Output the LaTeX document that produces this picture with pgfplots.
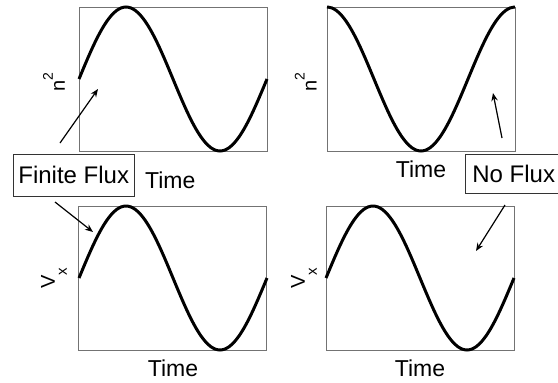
\documentclass[border=0pt]{standalone}
\usepackage{pgfplots}
\pgfplotsset{compat=1.18}
\usepackage{pgfplotstable}
\usepackage{fontspec}
\setmainfont{Liberation Sans}
\usetikzlibrary{arrows.meta}

% t = time, s = sine-like response, c = cosine-like response
\pgfplotstableread{
t      s        c
0      0        1
0.025  0.1564   0.9877
0.05   0.3090   0.9511
0.075  0.4540   0.8910
0.1    0.5878   0.8090
0.125  0.7071   0.7071
0.15   0.8090   0.5878
0.175  0.8910   0.4540
0.2    0.9511   0.3090
0.225  0.9877   0.1564
0.25   1        0
0.275  0.9877  -0.1564
0.3    0.9511  -0.3090
0.325  0.8910  -0.4540
0.35   0.8090  -0.5878
0.375  0.7071  -0.7071
0.4    0.5878  -0.8090
0.425  0.4540  -0.8910
0.45   0.3090  -0.9511
0.475  0.1564  -0.9877
0.5    0       -1
0.525 -0.1564  -0.9877
0.55  -0.3090  -0.9511
0.575 -0.4540  -0.8910
0.6   -0.5878  -0.8090
0.625 -0.7071  -0.7071
0.65  -0.8090  -0.5878
0.675 -0.8910  -0.4540
0.7   -0.9511  -0.3090
0.725 -0.9877  -0.1564
0.75  -1        0
0.775 -0.9877   0.1564
0.8   -0.9511   0.3090
0.825 -0.8910   0.4540
0.85  -0.8090   0.5878
0.875 -0.7071   0.7071
0.9   -0.5878   0.8090
0.925 -0.4540   0.8910
0.95  -0.3090   0.9511
0.975 -0.1564   0.9877
1      0        1
}\wave

\pgfplotsset{
    panel/.style={
        anchor=north west,
        scale only axis,
        width=94pt,
        height=72pt,
        xmin=0, xmax=1,
        ymin=-1, ymax=1,
        xtick=\empty, ytick=\empty,
        axis line style={draw=black!55, line width=0.5pt},
        clip=false,
        xlabel={Time},
        xlabel style={font=\fontsize{11.5}{13}\selectfont, anchor=base,
                at={(axis description cs:0.5,-0.185)}},
        ylabel style={font=\fontsize{10}{12}\selectfont, anchor=base},
    },
    curve/.style={black, line width=1.5pt, smooth, no markers},
}

\newcommand{\nsq}{n\raisebox{6pt}{\fontsize{7}{8}\selectfont 2}}
\newcommand{\vx}{V\raisebox{-6pt}{\fontsize{7.5}{8}\selectfont x}}

\begin{document}
\begin{tikzpicture}[x=1pt,y=1pt]
    \useasboundingbox (0,0) rectangle (279,-191);

    % top left: n^2, finite flux
    \begin{axis}[panel, at={(39.5pt,-3.5pt)},
            ylabel={\nsq},
            ylabel style={at={(axis description cs:-0.075,0.48)}},
            xlabel style={at={(axis description cs:0.485,-0.257)}}]
        \addplot[curve] table[x=t, y=s] {\wave};
    \end{axis}

    % top right: n^2, no flux
    \begin{axis}[panel, at={(163.5pt,-3.5pt)},
            ylabel={\nsq},
            ylabel style={at={(axis description cs:-0.055,0.48)}}]
        \addplot[curve] table[x=t, y=c] {\wave};
    \end{axis}

    % bottom left: V_x, finite flux
    \begin{axis}[panel, at={(39.5pt,-103pt)},
            ylabel={\vx},
            ylabel style={at={(axis description cs:-0.128,0.5)}}]
        \addplot[curve] table[x=t, y=s] {\wave};
    \end{axis}

    % bottom right: V_x, no flux
    \begin{axis}[panel, at={(163pt,-103pt)},
            ylabel={\vx},
            ylabel style={at={(axis description cs:-0.112,0.5)}}]
        \addplot[curve] table[x=t, y=s] {\wave};
    \end{axis}

    % annotations
    \draw[black!80, line width=0.5pt] (6.5,-77) rectangle (67,-98);
    \node[anchor=base west, inner sep=0pt, font=\fontsize{12}{14}\selectfont]
        at (9,-91.5) {Finite Flux};
    \draw[black!80, line width=0.5pt] (232.5,-77) rectangle (282,-96.5);
    \node[anchor=base west, inner sep=0pt, font=\fontsize{12}{14}\selectfont]
        at (236,-91) {No Flux};

    \tikzset{ann/.style={-{Stealth[length=4pt,width=3.2pt]}, line width=0.6pt}}
    \draw[ann] (30,-71.5) -- (49,-44.5);
    \draw[ann] (27.5,-101) -- (46.5,-116);
    \draw[ann] (251,-69) -- (246.5,-46.5);
    \draw[ann] (252.5,-102.5) -- (238,-125.5);
\end{tikzpicture}
\end{document}
